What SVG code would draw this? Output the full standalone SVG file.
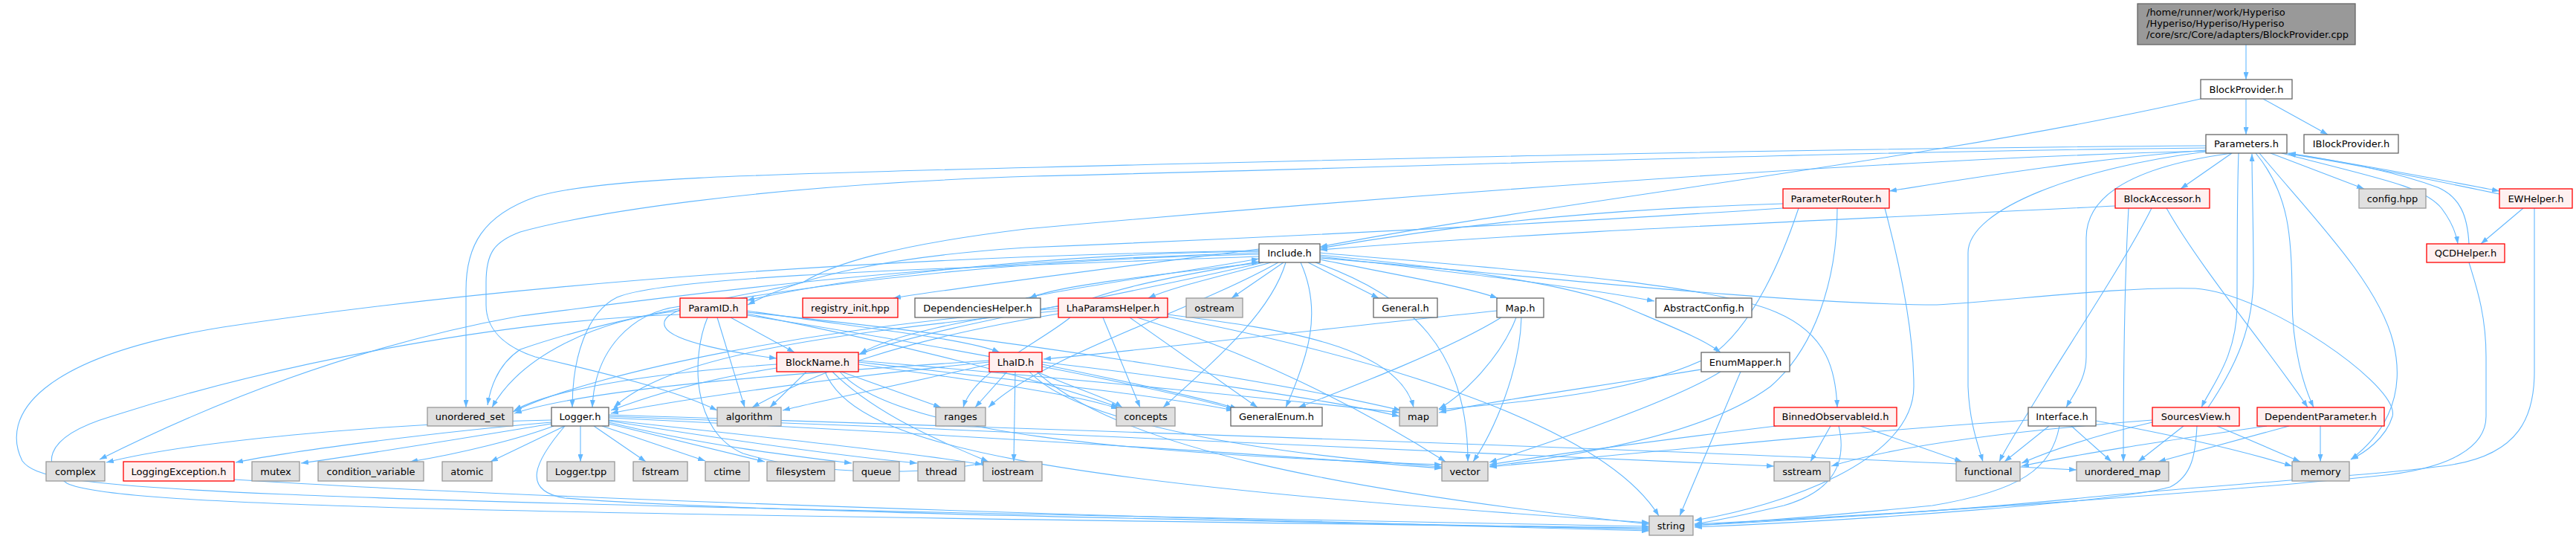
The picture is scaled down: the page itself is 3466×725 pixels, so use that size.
<svg xmlns="http://www.w3.org/2000/svg" width="3466" height="725" viewBox="0 0 3466 725">
<defs>
<marker id="ah" viewBox="0 0 10 7" refX="10" refY="3.5" markerWidth="10" markerHeight="7" markerUnits="userSpaceOnUse" orient="auto">
<path d="M0,0 L10,3.5 L0,7 z" fill="#63b8ff"/>
</marker>
<style>
.e{fill:none;stroke:#63b8ff;stroke-width:1.1;marker-end:url(#ah)}
.n rect{fill:#ffffff;stroke:#666666;stroke-width:1.3}
.g rect{fill:#e0e0e0;stroke:#999999;stroke-width:1.3}
.r rect{fill:#fff0f0;stroke:#ff0000;stroke-width:1.3}
.m rect{fill:#999999;stroke:#666666;stroke-width:1.3}
text{font-family:"DejaVu Sans","Liberation Sans",sans-serif;font-size:13px;fill:#000000;text-anchor:middle}
.m text{text-anchor:start}
</style>
</defs>
<rect width="3466" height="725" fill="#ffffff"/>
<g id="connectors">
<path class="e" d="M3022,60 L3022,107"/>
<path class="e" d="M3022,133 L3022,181"/>
<path class="e" d="M3045,133 L3132,181"/>
<path class="e" d="M2961,133 C2600,215 2100,270 1776,332"/>
<path class="e" d="M3003,206 L2934,254"/>
<path class="e" d="M3055,206 L3181,254"/>
<path class="e" d="M3077,206 C3200,225 3300,245 3363,257"/>
<path class="e" d="M3363,261 C3290,246 3190,224 3079,207"/>
<path class="e" d="M3070,206 C3200,240 3260,250 3285,280 C3300,300 3305,315 3307,328"/>
<path class="e" d="M3322,328 C3320,290 3310,265 3280,252 C3220,230 3140,215 3079,206"/>
<path class="e" d="M2968,202 C2800,215 2650,240 2542,257"/>
<path class="e" d="M3003,206 C2900,220 2807,250 2807,320 L2807,480 C2807,510 2790,530 2780,548"/>
<path class="e" d="M3012,206 C3010,260 3010,340 3010,410 C3010,480 2975,520 2962,548"/>
<path class="e" d="M2971,548 C3010,490 3032,440 3032,370 C3032,300 3030,250 3030,207"/>
<path class="e" d="M3035,206 C3080,260 3084,320 3084,400 C3084,470 3100,520 3113,548"/>
<path class="e" d="M3040,206 C3110,290 3200,380 3220,460 C3240,540 3200,590 3163,618"/>
<path class="e" d="M2968,204 C2800,225 2648,280 2648,340 L2648,520 C2650,570 2662,600 2668,621"/>
<path class="e" d="M2968,196 C2400,200 1800,215 1400,225 C1000,235 800,240 720,265 C650,290 627,330 627,390 L627,548"/>
<path class="e" d="M2968,199 C2400,205 1900,225 1390,237 C1000,250 780,290 700,312 C665,325 654,340 654,380 L654,410 C654,450 690,470 720,480 C850,510 920,530 965,552"/>
<path class="e" d="M2968,203 C2500,215 1800,270 1380,308 C1200,330 1120,355 1080,380 C1000,400 880,410 895,440 C905,460 990,475 1045,482"/>
<path class="e" d="M2846,277 C2500,295 2100,310 1776,336"/>
<path class="e" d="M2895,280 C2860,350 2780,470 2750,520 C2720,570 2700,600 2690,621"/>
<path class="e" d="M2864,280 C2860,350 2857,450 2857,621"/>
<path class="e" d="M2915,280 C2960,360 3060,480 3105,548"/>
<path class="e" d="M2399,274 C2200,280 2000,295 1776,334"/>
<path class="e" d="M2399,280 C2100,300 1700,320 1380,333 C1200,345 1080,370 1006,410"/>
<path class="e" d="M2420,280 C2400,340 2360,440 2300,480 C2200,530 2050,540 1936,551"/>
<path class="e" d="M2472,280 C2472,380 2440,470 2382,520 C2300,580 2150,610 2004,627"/>
<path class="e" d="M2536,280 C2560,370 2575,450 2575,520 C2575,620 2400,680 2280,700"/>
<path class="e" d="M3395,280 L3338,328"/>
<path class="e" d="M3410,280 L3410,500 C3410,560 3390,610 3300,625 C3200,640 3000,650 2800,670 C2600,690 2400,700 2280,707"/>
<path class="e" d="M3322,353 C3330,380 3345,420 3345,480 L3345,560 C3345,600 3300,630 3200,640 C3000,660 2600,690 2280,705"/>
<path class="e" d="M1694,335 C1500,360 1300,385 1202,401"/>
<path class="e" d="M1700,353 C1550,370 1420,385 1385,401"/>
<path class="e" d="M1710,353 C1650,370 1580,385 1545,401"/>
<path class="e" d="M1727,353 L1657,401"/>
<path class="e" d="M1760,353 L1855,401"/>
<path class="e" d="M1776,349 C1880,370 1970,385 2015,401"/>
<path class="e" d="M1776,345 C1950,365 2120,385 2226,405"/>
<path class="e" d="M1776,343 C1950,360 2100,380 2180,410 C2250,440 2290,455 2315,474"/>
<path class="e" d="M1776,340 C2000,360 2300,380 2390,420 C2460,450 2470,500 2472,548"/>
<path class="e" d="M1694,338 C1500,340 1200,360 1005,404"/>
<path class="e" d="M1694,345 C1300,360 900,370 830,400 C790,420 770,480 770,548"/>
<path class="e" d="M1700,353 C1500,400 1250,440 1155,477"/>
<path class="e" d="M1730,353 C1710,420 1640,480 1565,548"/>
<path class="e" d="M1750,353 C1780,420 1760,480 1730,548"/>
<path class="e" d="M1770,353 C1900,400 1975,470 1975,621"/>
<path class="e" d="M1776,347 C2000,365 2400,410 2606,410 C2700,405 2850,385 2954,388 C3050,395 3230,520 3219,560 C3210,590 3180,610 3163,618"/>
<path class="e" d="M1694,342 C1300,350 900,400 700,470 C670,490 660,520 656,545"/>
<path class="e" d="M1694,340 C1200,355 900,400 700,425 C450,470 250,560 134,618"/>
<path class="e" d="M1720,353 C1600,420 1400,480 1330,548"/>
<path class="e" d="M1694,337 C1200,345 700,380 300,440 C50,480 0,560 30,620 C60,660 200,670 2219,708"/>
<path class="e" d="M1380,401 C1450,385 1600,365 1694,348"/>
<path class="e" d="M1470,401 C1530,380 1620,365 1694,352"/>
<path class="e" d="M915,412 C850,420 800,470 797,548"/>
<path class="e" d="M965,427 L1002,548"/>
<path class="e" d="M983,427 L1069,474"/>
<path class="e" d="M1005,418 C1150,440 1300,455 1345,474"/>
<path class="e" d="M915,418 C800,430 700,480 662,548"/>
<path class="e" d="M1005,422 C1200,460 1400,510 1505,548"/>
<path class="e" d="M1005,424 C1300,470 1550,520 1660,550"/>
<path class="e" d="M1005,420 C1400,460 1750,520 1885,552"/>
<path class="e" d="M915,423 C700,430 400,480 150,560 C50,590 60,630 90,650 C150,680 600,690 2219,710"/>
<path class="e" d="M952,427 C930,480 930,580 1000,610 C1100,640 1250,640 1330,621"/>
<path class="e" d="M1085,500 L1036,548"/>
<path class="e" d="M1132,500 L1266,548"/>
<path class="e" d="M1045,495 C950,510 880,530 822,552"/>
<path class="e" d="M1045,490 C900,500 750,520 692,552"/>
<path class="e" d="M1155,490 C1300,510 1450,530 1505,550"/>
<path class="e" d="M1155,487 C1350,510 1550,530 1660,552"/>
<path class="e" d="M1155,485 C1450,510 1750,540 1883,555"/>
<path class="e" d="M1130,500 C1200,580 1500,610 1940,625"/>
<path class="e" d="M1110,500 C1150,600 1400,650 2219,703"/>
<path class="e" d="M1120,500 C1180,560 1280,600 1330,621"/>
<path class="e" d="M1355,500 L1312,548"/>
<path class="e" d="M1366,500 L1364,621"/>
<path class="e" d="M1331,490 C1200,520 1100,540 1053,552"/>
<path class="e" d="M1331,487 C1100,510 900,540 822,556"/>
<path class="e" d="M1331,485 C1100,500 800,520 692,556"/>
<path class="e" d="M1395,500 C1440,520 1490,535 1510,548"/>
<path class="e" d="M1402,490 C1500,510 1620,535 1665,550"/>
<path class="e" d="M1402,487 C1600,510 1800,540 1883,560"/>
<path class="e" d="M1385,500 C1450,570 1700,610 1940,628"/>
<path class="e" d="M1395,500 C1500,600 1800,660 2219,705"/>
<path class="e" d="M1484,427 L1534,548"/>
<path class="e" d="M1520,427 L1692,548"/>
<path class="e" d="M1530,427 C1700,480 1850,560 1945,621"/>
<path class="e" d="M1571,423 C1700,440 1880,460 1902,548"/>
<path class="e" d="M1571,426 C1800,470 2150,560 2232,694"/>
<path class="e" d="M1424,412 C1300,430 1200,450 1157,476"/>
<path class="e" d="M1424,418 C1100,450 900,480 826,548"/>
<path class="e" d="M1440,427 C1400,460 1310,500 1296,548"/>
<path class="e" d="M1424,422 C1200,460 1100,500 1012,548"/>
<path class="e" d="M1424,415 C1100,440 800,500 690,554"/>
<path class="e" d="M2014,418 C1800,440 1550,470 1404,483"/>
<path class="e" d="M2020,427 C1950,470 1820,520 1747,548"/>
<path class="e" d="M2040,427 C2020,480 1970,530 1936,550"/>
<path class="e" d="M2047,427 C2045,500 2010,580 1982,621"/>
<path class="e" d="M2289,497 C2150,520 2000,540 1936,555"/>
<path class="e" d="M2315,500 C2250,540 2100,590 2004,622"/>
<path class="e" d="M2342,500 L2260,694"/>
<path class="e" d="M2463,573 L2436,621"/>
<path class="e" d="M2503,573 L2640,621"/>
<path class="e" d="M2474,573 C2485,620 2470,660 2400,680 C2350,692 2310,700 2280,705"/>
<path class="e" d="M2390,573 C2250,590 2100,610 2004,625"/>
<path class="e" d="M2757,573 L2697,621"/>
<path class="e" d="M2787,573 L2841,621"/>
<path class="e" d="M2820,566 C2950,590 3030,610 3084,627"/>
<path class="e" d="M2729,565 C2500,580 2200,610 2004,628"/>
<path class="e" d="M2771,573 C2760,630 2720,660 2600,680 C2450,695 2350,702 2280,707"/>
<path class="e" d="M2938,573 L2877,621"/>
<path class="e" d="M2983,573 L3095,621"/>
<path class="e" d="M2956,573 C2954,610 2950,640 2920,655 C2850,675 2500,700 2280,709"/>
<path class="e" d="M2896,565 C2700,580 2550,600 2464,627"/>
<path class="e" d="M2896,568 C2800,590 2750,610 2720,623"/>
<path class="e" d="M3122,573 L3122,621"/>
<path class="e" d="M3080,573 L2904,621"/>
<path class="e" d="M3050,573 C2900,595 2800,610 2720,627"/>
<path class="e" d="M781,573 L781,621"/>
<path class="e" d="M799,573 L869,621"/>
<path class="e" d="M810,573 L949,620"/>
<path class="e" d="M819,570 L1029,621"/>
<path class="e" d="M819,568 C950,600 1080,615 1146,623"/>
<path class="e" d="M819,566 C1000,595 1150,615 1234,623"/>
<path class="e" d="M819,565 C1050,590 1250,612 1322,625"/>
<path class="e" d="M819,562 C1200,580 1700,610 1940,630"/>
<path class="e" d="M819,560 C1400,580 2100,615 2387,627"/>
<path class="e" d="M819,558 C1500,580 2400,610 2794,632"/>
<path class="e" d="M742,565 C500,570 250,595 143,622"/>
<path class="e" d="M742,568 C600,580 400,605 317,622"/>
<path class="e" d="M742,570 C650,585 500,610 405,623"/>
<path class="e" d="M745,573 C700,590 620,610 552,621"/>
<path class="e" d="M760,573 L660,621"/>
<path class="e" d="M760,573 C720,620 700,660 760,670 C1000,690 1700,700 2219,712"/>
<path class="e" d="M315,645 C700,670 1500,695 2219,714"/>
</g>
<g id="node-main" class="m"><rect x="2876" y="5" width="293" height="55"/><text x="2888" y="21">/home/runner/work/Hyperiso</text><text x="2888" y="36">/Hyperiso/Hyperiso/Hyperiso</text><text x="2888" y="51">/core/src/Core/adapters/BlockProvider.cpp</text></g>
<g id="node-BlockProvider" class="n"><rect x="2961" y="107" width="123" height="26"/><text x="3022.5" y="124.5">BlockProvider.h</text></g>
<g id="node-Parameters" class="n"><rect x="2968" y="181" width="109" height="25"/><text x="3022.5" y="198">Parameters.h</text></g>
<g id="node-IBlockProvider" class="n"><rect x="3100" y="181" width="127" height="25"/><text x="3163.5" y="198">IBlockProvider.h</text></g>
<g id="node-BlockAccessor" class="r"><rect x="2846" y="254" width="127" height="26"/><text x="2909.5" y="271.5">BlockAccessor.h</text></g>
<g id="node-ParameterRouter" class="r"><rect x="2399" y="254" width="143" height="26"/><text x="2470.5" y="271.5">ParameterRouter.h</text></g>
<g id="node-config" class="g"><rect x="3174" y="254" width="90" height="26"/><text x="3219" y="271.5">config.hpp</text></g>
<g id="node-EWHelper" class="r"><rect x="3363" y="254" width="98" height="26"/><text x="3412" y="271.5">EWHelper.h</text></g>
<g id="node-Include" class="n"><rect x="1694" y="328" width="82" height="25"/><text x="1735" y="345">Include.h</text></g>
<g id="node-QCDHelper" class="r"><rect x="3265" y="328" width="105" height="25"/><text x="3317.5" y="345">QCDHelper.h</text></g>
<g id="node-ParamID" class="r"><rect x="915" y="401" width="90" height="26"/><text x="960" y="418.5">ParamID.h</text></g>
<g id="node-registry_init" class="r"><rect x="1080" y="401" width="128" height="26"/><text x="1144" y="418.5">registry_init.hpp</text></g>
<g id="node-DependenciesHelper" class="n"><rect x="1231" y="401" width="169" height="26"/><text x="1315.5" y="418.5">DependenciesHelper.h</text></g>
<g id="node-LhaParamsHelper" class="r"><rect x="1424" y="401" width="147" height="26"/><text x="1497.5" y="418.5">LhaParamsHelper.h</text></g>
<g id="node-ostream" class="g"><rect x="1596" y="401" width="76" height="26"/><text x="1634" y="418.5">ostream</text></g>
<g id="node-General" class="n"><rect x="1848" y="401" width="86" height="26"/><text x="1891" y="418.5">General.h</text></g>
<g id="node-Map" class="n"><rect x="2014" y="401" width="63" height="26"/><text x="2045.5" y="418.5">Map.h</text></g>
<g id="node-AbstractConfig" class="n"><rect x="2228" y="401" width="129" height="26"/><text x="2292.5" y="418.5">AbstractConfig.h</text></g>
<g id="node-BlockName" class="r"><rect x="1045" y="474" width="110" height="26"/><text x="1100" y="491.5">BlockName.h</text></g>
<g id="node-LhaID" class="r"><rect x="1331" y="474" width="71" height="26"/><text x="1366.5" y="491.5">LhaID.h</text></g>
<g id="node-EnumMapper" class="n"><rect x="2289" y="474" width="119" height="26"/><text x="2348.5" y="491.5">EnumMapper.h</text></g>
<g id="node-unordered_set" class="g"><rect x="575" y="548" width="115" height="25"/><text x="632.5" y="565">unordered_set</text></g>
<g id="node-Logger" class="n"><rect x="742" y="548" width="77" height="25"/><text x="780.5" y="565">Logger.h</text></g>
<g id="node-algorithm" class="g"><rect x="965" y="548" width="86" height="25"/><text x="1008" y="565">algorithm</text></g>
<g id="node-ranges" class="g"><rect x="1259" y="548" width="67" height="25"/><text x="1292.5" y="565">ranges</text></g>
<g id="node-concepts" class="g"><rect x="1502" y="548" width="79" height="25"/><text x="1541.5" y="565">concepts</text></g>
<g id="node-GeneralEnum" class="n"><rect x="1656" y="548" width="123" height="25"/><text x="1717.5" y="565">GeneralEnum.h</text></g>
<g id="node-map" class="g"><rect x="1883" y="548" width="51" height="25"/><text x="1908.5" y="565">map</text></g>
<g id="node-BinnedObservableId" class="r"><rect x="2387" y="548" width="165" height="25"/><text x="2469.5" y="565">BinnedObservableId.h</text></g>
<g id="node-Interface" class="n"><rect x="2729" y="548" width="91" height="25"/><text x="2774.5" y="565">Interface.h</text></g>
<g id="node-SourcesView" class="r"><rect x="2896" y="548" width="117" height="25"/><text x="2954.5" y="565">SourcesView.h</text></g>
<g id="node-DependentParameter" class="r"><rect x="3037" y="548" width="171" height="25"/><text x="3122.5" y="565">DependentParameter.h</text></g>
<g id="node-complex" class="g"><rect x="62" y="621" width="79" height="26"/><text x="101.5" y="638.5">complex</text></g>
<g id="node-LoggingException" class="r"><rect x="166" y="621" width="149" height="26"/><text x="240.5" y="638.5">LoggingException.h</text></g>
<g id="node-mutex" class="g"><rect x="339" y="621" width="64" height="26"/><text x="371" y="638.5">mutex</text></g>
<g id="node-condition_variable" class="g"><rect x="428" y="621" width="142" height="26"/><text x="499" y="638.5">condition_variable</text></g>
<g id="node-atomic" class="g"><rect x="595" y="621" width="67" height="26"/><text x="628.5" y="638.5">atomic</text></g>
<g id="node-Logger_tpp" class="g"><rect x="736" y="621" width="91" height="26"/><text x="781.5" y="638.5">Logger.tpp</text></g>
<g id="node-fstream" class="g"><rect x="852" y="621" width="73" height="26"/><text x="888.5" y="638.5">fstream</text></g>
<g id="node-ctime" class="g"><rect x="949" y="621" width="59" height="26"/><text x="978.5" y="638.5">ctime</text></g>
<g id="node-filesystem" class="g"><rect x="1032" y="621" width="91" height="26"/><text x="1077.5" y="638.5">filesystem</text></g>
<g id="node-queue" class="g"><rect x="1148" y="621" width="62" height="26"/><text x="1179" y="638.5">queue</text></g>
<g id="node-thread" class="g"><rect x="1235" y="621" width="63" height="26"/><text x="1266.5" y="638.5">thread</text></g>
<g id="node-iostream" class="g"><rect x="1323" y="621" width="79" height="26"/><text x="1362.5" y="638.5">iostream</text></g>
<g id="node-vector" class="g"><rect x="1940" y="621" width="62" height="26"/><text x="1971" y="638.5">vector</text></g>
<g id="node-sstream" class="g"><rect x="2387" y="621" width="75" height="26"/><text x="2424.5" y="638.5">sstream</text></g>
<g id="node-functional" class="g"><rect x="2632" y="621" width="86" height="26"/><text x="2675" y="638.5">functional</text></g>
<g id="node-unordered_map" class="g"><rect x="2794" y="621" width="124" height="26"/><text x="2856" y="638.5">unordered_map</text></g>
<g id="node-memory" class="g"><rect x="3084" y="621" width="77" height="26"/><text x="3122.5" y="638.5">memory</text></g>
<g id="node-string" class="g"><rect x="2219" y="694" width="59" height="26"/><text x="2248.5" y="711.5">string</text></g>
</svg>
